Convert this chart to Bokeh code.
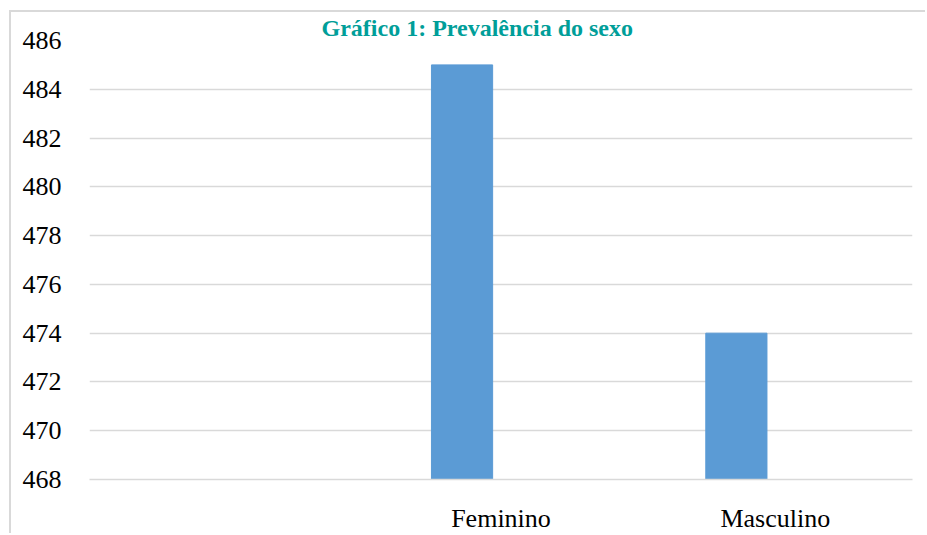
from bokeh.plotting import figure
from bokeh.models import FactorRange, Range1d, SingleIntervalTicker
from bokeh.transform import dodge
from bokeh.embed import file_html
from bokeh.resources import INLINE

title_text = "Gráfico 1: Prevalência do sexo"
axis_factors = [" ", "Feminino", "Masculino"]
categories = ["Feminino", "Masculino"]
counts = [485, 474]
y_min, y_max, y_step = 468, 486, 2

p = figure(width=916, height=523, output_backend="svg", toolbar_location=None,
           title=title_text,
           x_range=FactorRange(factors=axis_factors, range_padding=0),
           y_range=Range1d(y_min, y_max),
           min_border_left=78, min_border_right=15, min_border_top=28, min_border_bottom=54)
p.styles = {"margin-left": "9px", "margin-top": "10px",
            "border-left": "2px solid #d9d9d9", "border-top": "2px solid #d9d9d9"}
p.background_fill_color = "white"
p.border_fill_color = "white"
p.outline_line_color = None

p.title.align = "left"
p.title.offset = 232
p.title.standoff = 0
p.title.text_font = "Liberation Serif"
p.title.text_font_style = "bold"
p.title.text_font_size = "24px"
p.title.text_color = "#009e99"

p.vbar(x=dodge("x", -0.142, range=p.x_range), top="top", bottom=y_min, width=0.223,
       color="#5b9bd5", source=dict(x=categories, top=counts))

p.yaxis.ticker = SingleIntervalTicker(interval=y_step)
for ax in (p.xaxis[0], p.yaxis[0]):
    ax.major_label_text_font = "Liberation Serif"
    ax.major_label_text_font_size = "26px"
    ax.major_label_text_color = "black"
    ax.major_tick_line_color = None
    ax.minor_tick_line_color = None
p.yaxis.axis_line_color = None
p.yaxis.major_label_standoff = 22
p.xaxis.axis_line_color = "#d9d9d9"
p.xaxis.axis_line_width = 1.5
p.xaxis.major_label_standoff = 18
p.xgrid.grid_line_color = None
p.ygrid.grid_line_color = "#d9d9d9"
p.ygrid.grid_line_width = 1.5

open("out.html", "w").write(file_html(p, INLINE))
